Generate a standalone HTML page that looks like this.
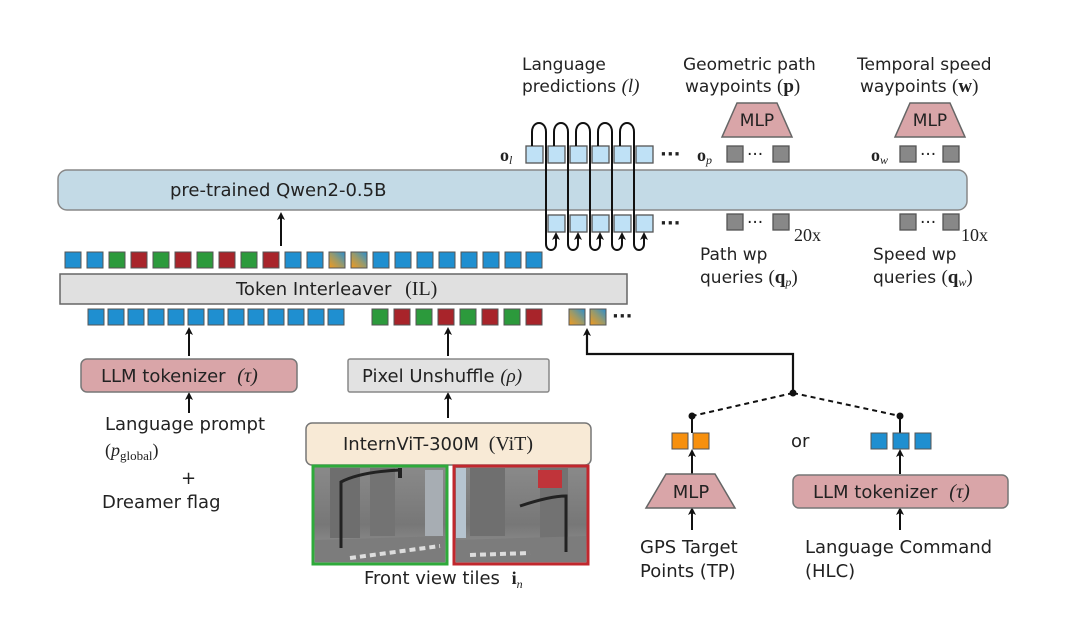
<!DOCTYPE html>
<html><head><meta charset="utf-8"><style>
html,body{margin:0;padding:0;background:#fff;}
svg{display:block;}
text{font-family:"DejaVu Sans","Liberation Sans",sans-serif;fill:#222;font-size:18px;}
.s{font-size:17px;}
.m{font-family:"Liberation Serif",serif;}
</style></head><body>
<svg width="1080" height="626" viewBox="0 0 1080 626" xmlns="http://www.w3.org/2000/svg">
<defs>
<marker id="ah" markerWidth="8" markerHeight="8" refX="4" refY="4" orient="auto" markerUnits="userSpaceOnUse">
<path d="M0,0 L8,4 L0,8 L2,4 Z" fill="#111"/></marker>
<linearGradient id="yb" x1="0" y1="1" x2="1" y2="0">
<stop offset="0" stop-color="#f39a1e"/><stop offset="0.5" stop-color="#9a9a6a"/><stop offset="1" stop-color="#2a8fd0"/></linearGradient>
<linearGradient id="sky" x1="0" y1="0" x2="0" y2="1">
<stop offset="0" stop-color="#8a8a8a"/><stop offset="0.6" stop-color="#777"/><stop offset="1" stop-color="#9c9c9c"/></linearGradient>
</defs>

<!-- Top labels -->
<text class="s" x="522" y="70">Language</text>
<text class="s" x="522" y="92">predictions <tspan class="m" font-style="italic" font-size="19">(l)</tspan></text>
<text class="s" x="683" y="70">Geometric path</text>
<text class="s" x="685" y="92">waypoints <tspan class="m" font-size="19">(<tspan font-weight="bold">p</tspan>)</tspan></text>
<text class="s" x="857" y="70">Temporal speed</text>
<text class="s" x="860" y="92">waypoints <tspan class="m" font-size="19">(<tspan font-weight="bold">w</tspan>)</tspan></text>

<!-- MLPs top -->
<path d="M722,137 L792,137 L777,103 L737,103 Z" fill="#d9a5a8" stroke="#666" stroke-width="1.5"/>
<text class="s" x="757" y="126" text-anchor="middle">MLP</text>
<path d="M895,137 L965,137 L950,103 L910,103 Z" fill="#d9a5a8" stroke="#666" stroke-width="1.5"/>
<text class="s" x="930" y="126" text-anchor="middle">MLP</text>

<!-- main bar -->
<rect x="58" y="170" width="909" height="40" rx="9" fill="#c3dae6" stroke="#888" stroke-width="1.5"/>
<text x="170" y="196">pre-trained Qwen2-0.5B</text>

<!-- output row -->
<text class="m" x="500" y="161" font-weight="bold">o<tspan font-size="12" font-style="italic" font-weight="normal" dy="3">l</tspan></text>
<g fill="#bfe1f6" stroke="#555" stroke-width="1.3">
<rect x="526" y="146" width="17" height="17"/><rect x="548" y="146" width="17" height="17"/><rect x="570" y="146" width="17" height="17"/><rect x="592" y="146" width="17" height="17"/><rect x="614" y="146" width="17" height="17"/><rect x="636" y="146" width="17" height="17"/>
<rect x="548" y="215" width="17" height="17"/><rect x="570" y="215" width="17" height="17"/><rect x="592" y="215" width="17" height="17"/><rect x="614" y="215" width="17" height="17"/><rect x="636" y="215" width="17" height="17"/>
</g>
<text x="660" y="160" font-weight="bold">···</text>
<text x="660" y="229" font-weight="bold">···</text>
<text class="m" x="697" y="161" font-weight="bold">o<tspan font-size="12" font-style="italic" font-weight="normal" dy="3">p</tspan></text>
<text class="m" x="871" y="161" font-weight="bold">o<tspan font-size="12" font-style="italic" font-weight="normal" dy="3">w</tspan></text>
<g fill="#888" stroke="#555" stroke-width="1.3">
<rect x="727" y="146" width="16" height="16"/><rect x="773" y="146" width="16" height="16"/>
<rect x="900" y="146" width="16" height="16"/><rect x="943" y="146" width="16" height="16"/>
<rect x="727" y="214" width="16" height="16"/><rect x="773" y="214" width="16" height="16"/>
<rect x="900" y="214" width="16" height="16"/><rect x="943" y="214" width="16" height="16"/>
</g>
<text class="s" x="747" y="160">···</text><text class="s" x="920" y="160">···</text>
<text class="s" x="747" y="228">···</text><text class="s" x="920" y="228">···</text>
<text class="m" x="794" y="241" font-size="19">20x</text>
<text class="m" x="961" y="241" font-size="19">10x</text>
<text class="s" x="700" y="260">Path wp</text>
<text class="s" x="700" y="283">queries <tspan class="m" font-size="19">(<tspan font-weight="bold">q</tspan><tspan font-size="12" font-style="italic" dy="3">p</tspan><tspan dy="-3">)</tspan></tspan></text>
<text class="s" x="873" y="260">Speed wp</text>
<text class="s" x="873" y="283">queries <tspan class="m" font-size="19">(<tspan font-weight="bold">q</tspan><tspan font-size="12" font-style="italic" dy="3">w</tspan><tspan dy="-3">)</tspan></tspan></text>

<!-- loops -->
<g fill="none" stroke="#111" stroke-width="2">
<path d="M532,146 L532,132 C532,120 546,120 546,132 L546,244 C546,252 556,252 556,244 L556,236" marker-end="url(#ah)"/>
<path d="M554,146 L554,132 C554,120 568,120 568,132 L568,244 C568,252 578,252 578,244 L578,236" marker-end="url(#ah)"/>
<path d="M576,146 L576,132 C576,120 590,120 590,132 L590,244 C590,252 600,252 600,244 L600,236" marker-end="url(#ah)"/>
<path d="M598,146 L598,132 C598,120 612,120 612,132 L612,244 C612,252 622,252 622,244 L622,236" marker-end="url(#ah)"/>
<path d="M620,146 L620,132 C620,120 634,120 634,132 L634,244 C634,252 644,252 644,244 L644,236" marker-end="url(#ah)"/>
</g>

<!-- arrow into main bar -->
<line x1="281" y1="246" x2="281" y2="216" stroke="#111" stroke-width="2" marker-end="url(#ah)"/>

<!-- top token row -->
<g stroke="#555" stroke-width="1">
<rect x="65" y="252" width="16" height="16" fill="#1f8fd0"/>
<rect x="87" y="252" width="16" height="16" fill="#1f8fd0"/>
<rect x="109" y="252" width="16" height="16" fill="#2c9a3c"/>
<rect x="131" y="252" width="16" height="16" fill="#a8242a"/>
<rect x="153" y="252" width="16" height="16" fill="#2c9a3c"/>
<rect x="175" y="252" width="16" height="16" fill="#a8242a"/>
<rect x="197" y="252" width="16" height="16" fill="#2c9a3c"/>
<rect x="219" y="252" width="16" height="16" fill="#a8242a"/>
<rect x="241" y="252" width="16" height="16" fill="#2c9a3c"/>
<rect x="263" y="252" width="16" height="16" fill="#a8242a"/>
<rect x="285" y="252" width="16" height="16" fill="#1f8fd0"/>
<rect x="307" y="252" width="16" height="16" fill="#1f8fd0"/>
<rect x="329" y="252" width="16" height="16" fill="url(#yb)"/>
<rect x="351" y="252" width="16" height="16" fill="url(#yb)"/>
<rect x="373" y="252" width="16" height="16" fill="#1f8fd0"/>
<rect x="395" y="252" width="16" height="16" fill="#1f8fd0"/>
<rect x="417" y="252" width="16" height="16" fill="#1f8fd0"/>
<rect x="439" y="252" width="16" height="16" fill="#1f8fd0"/>
<rect x="461" y="252" width="16" height="16" fill="#1f8fd0"/>
<rect x="483" y="252" width="16" height="16" fill="#1f8fd0"/>
<rect x="505" y="252" width="16" height="16" fill="#1f8fd0"/>
<rect x="526" y="252" width="16" height="16" fill="#1f8fd0"/>
</g>

<!-- interleaver -->
<rect x="60" y="274" width="567" height="30" fill="#e0e0e0" stroke="#666" stroke-width="1.5"/>
<text x="236" y="295">Token Interleaver <tspan class="m" dx="8" font-size="20">(IL)</tspan></text>

<!-- bottom token row -->
<g stroke="#555" stroke-width="1">
<rect x="88" y="309" width="16" height="16" fill="#1f8fd0"/>
<rect x="108" y="309" width="16" height="16" fill="#1f8fd0"/>
<rect x="128" y="309" width="16" height="16" fill="#1f8fd0"/>
<rect x="148" y="309" width="16" height="16" fill="#1f8fd0"/>
<rect x="168" y="309" width="16" height="16" fill="#1f8fd0"/>
<rect x="188" y="309" width="16" height="16" fill="#1f8fd0"/>
<rect x="208" y="309" width="16" height="16" fill="#1f8fd0"/>
<rect x="228" y="309" width="16" height="16" fill="#1f8fd0"/>
<rect x="248" y="309" width="16" height="16" fill="#1f8fd0"/>
<rect x="268" y="309" width="16" height="16" fill="#1f8fd0"/>
<rect x="288" y="309" width="16" height="16" fill="#1f8fd0"/>
<rect x="308" y="309" width="16" height="16" fill="#1f8fd0"/>
<rect x="328" y="309" width="16" height="16" fill="#1f8fd0"/>
<rect x="372" y="309" width="16" height="16" fill="#2c9a3c"/>
<rect x="394" y="309" width="16" height="16" fill="#a8242a"/>
<rect x="416" y="309" width="16" height="16" fill="#2c9a3c"/>
<rect x="438" y="309" width="16" height="16" fill="#a8242a"/>
<rect x="460" y="309" width="16" height="16" fill="#2c9a3c"/>
<rect x="482" y="309" width="16" height="16" fill="#a8242a"/>
<rect x="504" y="309" width="16" height="16" fill="#2c9a3c"/>
<rect x="526" y="309" width="16" height="16" fill="#a8242a"/>
<rect x="569" y="309" width="16" height="16" fill="url(#yb)"/>
<rect x="590" y="309" width="16" height="16" fill="url(#yb)"/>
</g>
<text x="612" y="322" font-weight="bold">···</text>

<!-- arrows into bottom row -->
<g stroke="#111" stroke-width="2">
<line x1="189" y1="356" x2="189" y2="331" marker-end="url(#ah)"/>
<line x1="448" y1="356" x2="448" y2="331" marker-end="url(#ah)"/>
<line x1="189" y1="413" x2="189" y2="396" marker-end="url(#ah)"/>
<line x1="448" y1="418" x2="448" y2="396" marker-end="url(#ah)"/>
</g>

<!-- left boxes -->
<rect x="81" y="359" width="216" height="33" rx="6" fill="#d9a5a8" stroke="#777" stroke-width="1.5"/>
<text x="101" y="382">LLM tokenizer <tspan class="m" dx="6" font-style="italic" font-size="20">(τ)</tspan></text>
<rect x="348" y="359" width="201" height="33" rx="2" fill="#e2e2e2" stroke="#888" stroke-width="1.5"/>
<text x="362" y="382" font-size="17">Pixel Unshuffle <tspan class="m" font-style="italic" font-size="19">(ρ)</tspan></text>
<text x="105" y="430">Language prompt</text>
<text class="m" x="105" y="456" font-size="20">(<tspan font-style="italic">p</tspan><tspan font-size="13" dy="4">global</tspan><tspan dy="-4">)</tspan></text>
<text x="181" y="484" font-size="24">+</text>
<text x="102" y="508">Dreamer flag</text>

<rect x="306" y="423" width="285" height="42" rx="6" fill="#f8ead6" stroke="#777" stroke-width="1.5"/>
<text x="343" y="450">InternViT-300M <tspan class="m" dx="4" font-size="20">(ViT)</tspan></text>

<!-- images -->
<g>
<rect x="313" y="466" width="134" height="98" fill="url(#sky)" stroke="#2eaa3a" stroke-width="3"/>
<rect x="330" y="468" width="30" height="70" fill="#6e6e6e"/><rect x="370" y="468" width="25" height="68" fill="#737373"/><rect x="425" y="470" width="18" height="66" fill="#a7adb3"/>
<path d="M315,540 L445,536 L445,562 L315,562Z" fill="#7c7c7c"/>
<path d="M350,558 L440,546" stroke="#ddd" stroke-width="4" stroke-dasharray="6 4"/>
<path d="M341,548 L341,482 Q360,472 400,470" fill="none" stroke="#222" stroke-width="3"/>
<rect x="398" y="468" width="4" height="10" fill="#222"/>
<rect x="454" y="466" width="134" height="98" fill="url(#sky)" stroke="#c1272d" stroke-width="3"/>
<rect x="456" y="468" width="10" height="70" fill="#b6c4d0"/><rect x="470" y="468" width="35" height="68" fill="#6f6f6f"/><rect x="540" y="468" width="28" height="70" fill="#727272"/>
<rect x="538" y="470" width="24" height="18" fill="#c0343a"/>
<path d="M456,540 L586,536 L586,562 L456,562Z" fill="#7c7c7c"/>
<path d="M470,555 L530,553" stroke="#ddd" stroke-width="4" stroke-dasharray="6 4"/>
<path d="M566,552 L566,496 Q550,496 520,506" fill="none" stroke="#222" stroke-width="3"/>
</g>
<text x="364" y="584">Front view tiles <tspan class="m" dx="6" font-weight="bold">i</tspan><tspan class="m" font-size="12" font-style="italic" dy="4">n</tspan></text>

<!-- right connector -->
<path d="M793,393 L793,354 L587,354 L587,332" fill="none" stroke="#111" stroke-width="2.2" marker-end="url(#ah)"/>
<path d="M793,393 L692,416 M793,393 L900,416" fill="none" stroke="#111" stroke-width="2" stroke-dasharray="5 4"/>
<circle cx="793" cy="393" r="3.5" fill="#111"/>
<circle cx="692" cy="416" r="3.5" fill="#111"/>
<circle cx="900" cy="416" r="3.5" fill="#111"/>
<line x1="692" y1="416" x2="692" y2="433" stroke="#111" stroke-width="2"/>
<line x1="900" y1="416" x2="900" y2="433" stroke="#111" stroke-width="2"/>
<g stroke="#555" stroke-width="1">
<rect x="672" y="433" width="16" height="16" fill="#f7900e"/>
<rect x="693" y="433" width="16" height="16" fill="#f7900e"/>
<rect x="871" y="433" width="16" height="16" fill="#1f8fd0"/>
<rect x="893" y="433" width="16" height="16" fill="#1f8fd0"/>
<rect x="915" y="433" width="16" height="16" fill="#1f8fd0"/>
</g>
<text x="791" y="447">or</text>
<g stroke="#111" stroke-width="2">
<line x1="692" y1="474" x2="692" y2="453" marker-end="url(#ah)"/>
<line x1="900" y1="474" x2="900" y2="453" marker-end="url(#ah)"/>
<line x1="692" y1="530" x2="692" y2="511" marker-end="url(#ah)"/>
<line x1="900" y1="530" x2="900" y2="511" marker-end="url(#ah)"/>
</g>
<path d="M646,508 L735,508 L715,474 L666,474 Z" fill="#d9a5a8" stroke="#666" stroke-width="1.5"/>
<text x="691" y="498" text-anchor="middle">MLP</text>
<rect x="793" y="475" width="215" height="33" rx="6" fill="#d9a5a8" stroke="#777" stroke-width="1.5"/>
<text x="813" y="498">LLM tokenizer <tspan class="m" dx="6" font-style="italic" font-size="20">(τ)</tspan></text>
<text x="640" y="553" font-size="17.5">GPS Target</text>
<text x="640" y="577" font-size="17.5">Points (TP)</text>
<text x="805" y="553" font-size="17.5">Language Command</text>
<text x="805" y="577" font-size="17.5">(HLC)</text>
</svg>
</body></html>
